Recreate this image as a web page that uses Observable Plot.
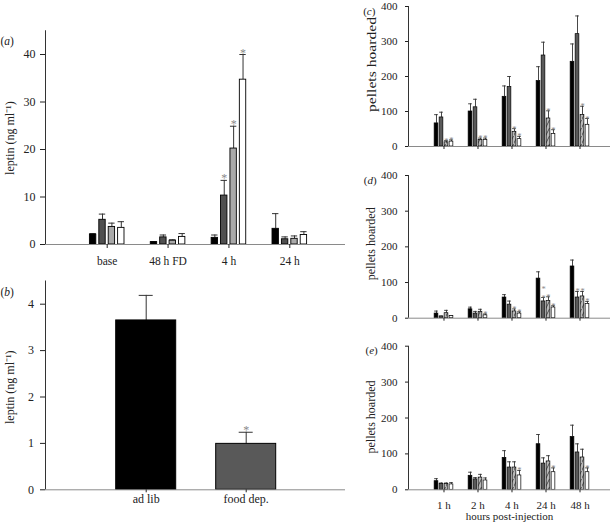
<!DOCTYPE html>
<html><head><meta charset="utf-8">
<script src="https://cdn.jsdelivr.net/npm/d3@7"></script>
<script src="https://cdn.jsdelivr.net/npm/@observablehq/plot@0.6"></script>
<style>
body{margin:0;background:#fff;}
#root{position:relative;width:615px;height:526px;overflow:hidden;font-family:"Liberation Serif",serif;}
#root svg.panel{position:absolute;}
</style></head><body>
<svg width="0" height="0" style="position:absolute">
  <defs>
    <pattern id="hatch" patternUnits="userSpaceOnUse" width="4" height="8">
      <rect width="4" height="8" fill="#b9b9b9"/>
      <path d="M-1,9 L5,-3" stroke="#333" stroke-width="0.8"/>
    </pattern>
  </defs>
</svg>
<div id="root"></div>
<script>
// ---- Panel (a): plasma leptin, 4 series x 4 time points
const aGroups = ["base", "48 h FD", "4 h", "24 h"];
const aMean = [[2.1, 0.5, 1.4, 3.3], [5.2, 1.5, 10.3, 1.1], [3.7, 0.8, 20.2, 1.2], [3.5, 1.6, 34.7, 2.0]];
const aErr  = [[0.2, 0.1, 0.6, 3.2], [1.2, 0.5, 3.2, 0.5], [0.8, 0.2, 4.7, 0.6], [1.3, 0.7, 5.3, 0.7]];
const aStar = [[0, 0, 0, 0], [0, 0, 1, 0], [0, 0, 1, 0], [0, 0, 1, 0]];
const aTicks = [0, 10, 20, 30, 40];

// ---- Panel (b): leptin, ad lib vs food deprived
const bGroups = ["ad lib", "food dep."];
const bMean = [3.65, 0.99];
const bErr  = [0.54, 0.25];
const bStar = [0, 1];
const bTicks = [0, 1, 2, 3, 4];

// ---- Panels (c)-(e): pellets hoarded
const hGroups = ["1 h", "2 h", "4 h", "24 h", "48 h"];
const hTicks = [0, 100, 200, 300, 400];
const cMean = [[66, 100, 142, 187, 242], [83, 112, 170, 260, 321], [12, 19, 42, 80, 90], [14, 19, 21, 36, 62]];
const cErr  = [[25, 22, 31, 41, 51], [15, 23, 30, 38, 52], [5, 5, 9, 22, 25], [5, 5, 8, 12, 18]];
const cStar = [[0, 0, 0, 0, 0], [0, 0, 0, 0, 0], [1, 1, 1, 1, 1], [1, 1, 1, 1, 1]];
const dMean = [[13, 25, 58, 111, 145], [5, 13, 38, 47, 58], [14, 18, 19, 48, 61], [6, 8, 13, 30, 40]];
const dErr  = [[7, 6, 8, 19, 18], [0.5, 6, 10, 11, 17], [8, 7, 7, 12, 14], [1, 4, 5, 5, 7]];
const dStar = [[0, 0, 0, 0, 0], [0, 0, 0, 2, 1], [0, 0, 1, 1, 1], [0, 1, 1, 1, 1]];
const eMean = [[24, 39, 89, 127, 147], [16, 29, 62, 73, 104], [16, 34, 62, 79, 90], [15, 26, 40, 49, 49]];
const eErr  = [[7, 10, 20, 27, 33], [3, 5, 16, 16, 24], [3, 9, 16, 16, 23], [5, 7, 14, 12, 12]];
const eStar = [[0, 0, 0, 0, 0], [0, 0, 0, 0, 0], [0, 0, 0, 0, 0], [0, 0, 1, 1, 1]];

const leptinLabel = "leptin (ng ml\u207B\u00B9)";
const pelletLabel = "pellets hoarded";

function makePanel(o) {
  const n = o.mean.length, G = o.groups.length;
  const rows = [];
  for (let s = 0; s < n; s++) for (let g = 0; g < G; g++)
    rows.push({g, s, v: o.mean[s][g], e: o.err[s][g], st: o.star[s][g]});
  const xc = d => d.g + (d.s - (n - 1) / 2) * o.pitch;
  const withErr = rows.filter(d => d.e > 0);
  const marks = [
    Plot.ruleX(withErr, {x: xc, y1: "v", y2: d => d.v + d.e, stroke: "#333", strokeWidth: o.ew}),
    Plot.ruleY(withErr, {y: d => d.v + d.e, x1: d => xc(d) - o.capW / 2, x2: d => xc(d) + o.capW / 2, stroke: "#333", strokeWidth: o.ew}),
    Plot.rect(rows, {x1: d => xc(d) - o.barW / 2, x2: d => xc(d) + o.barW / 2, y1: 0, y2: "v",
      fill: d => o.fill(d), stroke: "#000", strokeWidth: o.sw}),
    Plot.text(rows.filter(d => d.st > 0), {x: xc, y: d => d.v + d.e, text: d => Array(d.st).fill("*").join("\n"),
      lineAnchor: "bottom", lineHeight: 1.05, dy: o.starDy, fill: "#8a8a8a", fontSize: o.starFs}),
    Plot.ruleY([0], {stroke: "#8a8a8a", strokeWidth: 1}),
    Plot.ruleX([o.xDomain[0]], {stroke: "#333", strokeWidth: 1}),
    Plot.axisY({ticks: o.yTicks, tickFormat: d => String(d), tickSize: o.yTickSize, tickPadding: o.yTickPad, label: null, fontSize: o.yfs}),
    Plot.axisX({ticks: d3.range(G), tickFormat: o.showX ? (i => o.groups[i]) : (() => ""),
      tickSize: o.xTickSize, tickPadding: o.xTickPad, label: null, fontSize: o.xfs}),
    Plot.text([o.ylabel], {text: d => d, frameAnchor: "left", rotate: -90, textAnchor: "middle",
      dx: o.ylx, dy: o.yly, fontSize: o.ylfs, fill: "#222"}),
    Plot.text([o.tag], {text: d => d, frameAnchor: "top-left", textAnchor: "start",
      dx: o.tagx, dy: o.tagy, fontSize: o.tagfs, fill: "#222"})
  ];
  if (o.xlabel) marks.push(Plot.text([o.xlabel], {text: d => d, frameAnchor: "bottom", dy: o.xly, fontSize: o.xlfs, fill: "#222"}));
  const svg = Plot.plot({
    width: o.width, height: o.height,
    marginLeft: o.mL, marginRight: o.mR, marginTop: o.mT, marginBottom: o.mB,
    x: {domain: o.xDomain},
    y: {domain: o.yDomain},
    style: {background: "transparent", fontFamily: "'Liberation Serif', serif", color: "#222", fontSize: "11px", overflow: "visible"},
    marks
  });
  svg.classList.add("panel");
  svg.style.left = o.left + "px";
  svg.style.top = o.top + "px";
  svg.style.maxWidth = "none";
  // italic panel letter, upright parentheses
  svg.querySelectorAll("text").forEach(t => {
    const m = t.textContent.match(/^\(([a-e])\)$/);
    if (m && t.children.length === 0) {
      t.textContent = "";
      t.appendChild(document.createTextNode("("));
      const ts = document.createElementNS("http://www.w3.org/2000/svg", "tspan");
      ts.setAttribute("font-style", "italic");
      ts.textContent = m[1];
      t.appendChild(ts);
      t.appendChild(document.createTextNode(")"));
    }
    if (o.ylLen && t.textContent === o.ylabel) {
      t.setAttribute("textLength", o.ylLen);
      t.setAttribute("lengthAdjust", "spacingAndGlyphs");
    }
  });
  document.getElementById("root").appendChild(svg);
}

const seriesFill4 = ["#000", "#505050", "#a9a9a9", "#fff"];
const seriesFillH = ["#000", "#5a5a5a", "url(#hatch)", "#fff"];
const bFill = ["#000", "#595959"];

makePanel({
  groups: aGroups, mean: aMean, err: aErr, star: aStar, yTicks: aTicks,
  fill: d => seriesFill4[d.s],
  left: 0, top: 0, width: 350, height: 270, mL: 45, mR: 5, mT: 30.25, mB: 26,
  yDomain: [0, 45], xDomain: [-1.0137, 3.915], pitch: 0.1544, barW: 0.105, capW: 0.105,
  sw: 0.9, ew: 1, starFs: 12, starDy: 2,
  yfs: 12, xfs: 11.5, yTickSize: 5, yTickPad: 5, xTickSize: 4, xTickPad: 8, showX: true,
  ylabel: leptinLabel, ylx: -35, yly: 0.5, ylfs: 12,
  tag: "(a)", tagx: -45, tagy: 6.25, tagfs: 11.5
});

makePanel({
  groups: bGroups, mean: [bMean], err: [bErr], star: [bStar], yTicks: bTicks,
  fill: d => bFill[d.g],
  left: 0, top: 270, width: 350, height: 256, mL: 45, mR: 5, mT: 10.5, mB: 36.7,
  yDomain: [0, 4.5], xDomain: [-1.007, 1.993], pitch: 0, barW: 0.6, capW: 0.14,
  sw: 1, ew: 1, starFs: 12, starDy: 2,
  yfs: 12, xfs: 12, yTickSize: 5, yTickPad: 6.5, xTickSize: 3, xTickPad: 2, showX: true,
  ylabel: leptinLabel, ylx: -35, yly: 1.8, ylfs: 12,
  tag: "(b)", tagx: -45, tagy: 6.5, tagfs: 11.5
});

const rightCommon = {
  groups: hGroups, yTicks: hTicks, fill: d => seriesFillH[d.s],
  left: 330, width: 285, mL: 78, mR: 5,
  yDomain: [0, 400], xDomain: [-1.044, 4.897], pitch: 0.147, barW: 0.109, capW: 0.109,
  sw: 0.7, ew: 0.9, starFs: 8.5, starDy: 3,
  yfs: 11, xfs: 11, yTickSize: 3, yTickPad: 8, xTickSize: 3, xTickPad: 8,
  ylabel: pelletLabel, ylfs: 12, tagfs: 11
};

makePanel({...rightCommon, mean: cMean, err: cErr, star: cStar,
  top: 0, height: 165, mT: 6, mB: 19, showX: false,
  ylx: -36.3, yly: -12, ylLen: 95, tag: "(c)", tagx: -45.3, tagy: 1});

makePanel({...rightCommon, mean: dMean, err: dErr, star: dStar,
  top: 165, height: 170, mT: 10, mB: 17.3, showX: false,
  ylx: -37, yly: -3, tag: "(d)", tagx: -44.7, tagy: 0.3});

makePanel({...rightCommon, mean: eMean, err: eErr, star: eStar,
  top: 335, height: 191, mT: 10.7, mB: 36.7, showX: true,
  ylx: -37, yly: -1, tag: "(e)", tagx: -43, tagy: 0.3,
  xlabel: "hours post-injection", xly: 30, xlfs: 11});
</script>
</body></html>
